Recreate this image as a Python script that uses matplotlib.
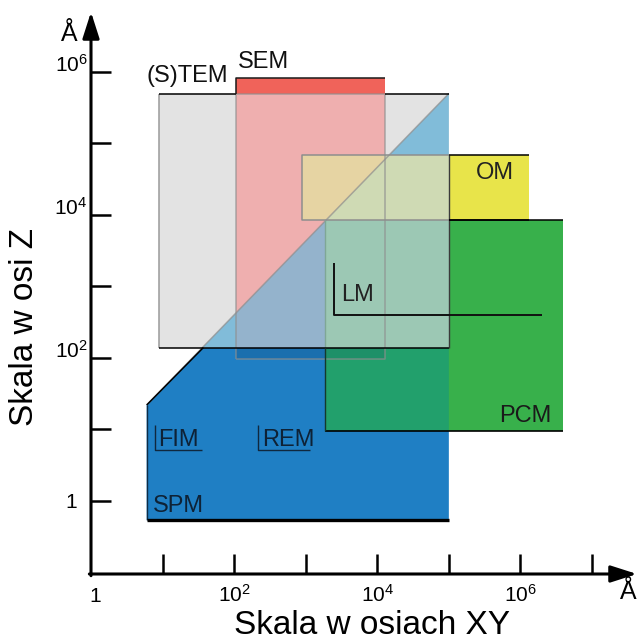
import matplotlib
matplotlib.use("Agg")
import matplotlib.pyplot as plt
from matplotlib.patches import Rectangle, Polygon
from matplotlib.transforms import blended_transform_factory, offset_copy

plt.rcParams["font.family"] = ["Liberation Sans", "DejaVu Sans"]
plt.rcParams["mathtext.fontset"] = "custom"
plt.rcParams["mathtext.rm"] = "Liberation Sans"
plt.rcParams["mathtext.it"] = "Liberation Sans:italic"
plt.rcParams["mathtext.bf"] = "Liberation Sans:bold"

# ---- ranges of each imaging technique (Å): lateral XY and vertical Z ----
tem_xy = [9.0, 1.0e5]
tem_z = [140.0, 5.0e5]
sem_xy = [105.0, 1.3e4]
sem_z = [97.0, 8.3e5]
om_xy = [890.0, 1.3e6]
om_z = [8.4e3, 6.9e4]
pcm_xy = [1.86e3, 3.9e6]
pcm_z = [9.5, 8.4e3]
spm_xy = [6.0, 1.0e5]
spm_z = [0.54, 22.0]          # bottom, start of the slanted edge
lm_xy = [2.45e3, 2.0e6]
lm_z = [400.0, 2.1e3]
fim_xy = [7.8, 35.0]
fim_z = [5.2, 11.6]
rem_xy = [215.0, 1150.0]
rem_z = [5.2, 11.6]

tick_values = [1, 10, 100, 1e3, 1e4, 1e5, 1e6, 1e7]
label_values = [1, 1e2, 1e4, 1e6]
label_texts = ["1", r"$\mathregular{10^{2}}$", r"$\mathregular{10^{4}}$", r"$\mathregular{10^{6}}$"]

W, H = 637, 641
fig = plt.figure(figsize=(W / 100, H / 100), dpi=100)
ax = fig.add_axes([91 / W, 67 / H, 546 / W, 562 / H])
ax.set_xscale("log")
ax.set_yscale("log")
ax.set_xlim(1, 10 ** 7.629)
ax.set_ylim(10 ** -1.021, 10 ** 6.839)
for s in ax.spines.values():
    s.set_visible(False)
ax.set_xticks(tick_values[1:])
ax.set_yticks(tick_values[:7])
ax.minorticks_off()
ax.tick_params(direction="in", length=14.4, width=1.8, labelbottom=False, labelleft=False)


def rect(xs, zs, color, z, clip=None, **kw):
    r = Rectangle((xs[0], zs[0]), xs[1] - xs[0], zs[1] - zs[0],
                  facecolor=color, edgecolor="none", zorder=z, **kw)
    ax.add_patch(r)
    if clip is not None:
        r.set_clip_path(clip)
    return r


def line(xs, zs, color, lw, z, **kw):
    ax.plot(xs, zs, color=color, lw=lw, zorder=z, solid_capstyle="butt", **kw)


# SPM area: bounded below, with a slanted upper edge up to the TEM corner
spm_verts = [(spm_xy[0], spm_z[0]), (spm_xy[0], spm_z[1]),
             (tem_xy[1], tem_z[1]), (spm_xy[1], spm_z[0])]
spm_patch = Polygon(spm_verts, closed=True, facecolor="#1f7fc4", edgecolor="none", zorder=1)
ax.add_patch(spm_patch)
spm_clip = Polygon(spm_verts, closed=True, transform=ax.transData)
above_clip = Polygon([(spm_xy[0], spm_z[1]), (tem_xy[1], tem_z[1]),
                      (tem_xy[1], 1e9), (spm_xy[0], 1e9)],
                     closed=True, transform=ax.transData)

# (S)TEM
rect(tem_xy, tem_z, "#e3e3e3", 2)
rect(tem_xy, tem_z, "#81bcd9", 3, clip=spm_clip)

# SEM
sem_in = [sem_z[0] if sem_z[0] > tem_z[0] else tem_z[0], tem_z[1]]
rect(sem_xy, sem_in, "#efafaf", 4)
rect(sem_xy, sem_in, "#94b3cc", 5, clip=spm_clip)
rect(sem_xy, [tem_z[1], sem_z[1]], "#f0635a", 5)
rect(sem_xy, [sem_z[0], tem_z[0]], "#1a6fae", 5, clip=spm_clip)

# PCM
rect(pcm_xy, pcm_z, "#38b04b", 6)
rect(pcm_xy, pcm_z, "#22a06c", 7, clip=spm_clip)
rect([pcm_xy[0], tem_xy[1]], [tem_z[0], pcm_z[1]], "#9cc8b4", 8)
rect([pcm_xy[0], sem_xy[1]], [sem_z[0], tem_z[0]], "#1e9068", 8)

# OM
rect(om_xy, om_z, "#e8e44a", 9)
rect([om_xy[0], tem_xy[1]], om_z, "#cfdab4", 10)
rect([om_xy[0], sem_xy[1]], om_z, "#e6d4a3", 11, clip=above_clip)

# outlines
gray = "#8e8e8e"
# TEM
line([tem_xy[0], tem_xy[0]], tem_z, "#9a9a9a", 1.1, 12)
line([tem_xy[0], sem_xy[0]], [tem_z[1]] * 2, "#000000", 1.1, 13)
line([sem_xy[1], tem_xy[1]], [tem_z[1]] * 2, "#000000", 1.1, 13)
line(tem_xy, [tem_z[0]] * 2, "#000000", 1.1, 13)
line([tem_xy[1]] * 2, [tem_z[0], om_z[1]], "#3a3a3a", 1.0, 13)
# slanted SPM edge inside TEM
line([spm_xy[0], tem_xy[1]], [spm_z[1], tem_z[1]], gray, 1.1, 12, alpha=0.7)
# SEM
line([sem_xy[0], sem_xy[1], sem_xy[1], sem_xy[0], sem_xy[0]],
     [sem_z[0], sem_z[0], tem_z[1], tem_z[1], sem_z[0]], gray, 1.1, 12, alpha=0.7)
line([sem_xy[0], sem_xy[0], sem_xy[1]], [tem_z[1], sem_z[1], sem_z[1]], "#1a1a1a", 1.1, 13)
# OM
line([tem_xy[1], om_xy[0], om_xy[0], tem_xy[1]], [om_z[1], om_z[1], om_z[0], om_z[0]],
     gray, 1.1, 12)
line([tem_xy[1], om_xy[1]], [om_z[1]] * 2, "#000000", 1.1, 13)
line([tem_xy[1], om_xy[1]], [om_z[0]] * 2, "#000000", 1.1, 13)
# PCM
line([tem_xy[1], pcm_xy[1]], [pcm_z[1]] * 2, "#000000", 1.1, 13)
line(pcm_xy, [pcm_z[0]] * 2, "#000000", 1.2, 13)
line([pcm_xy[0]] * 2, [pcm_z[0], tem_z[0]], "#14392c", 1.0, 13)
line([pcm_xy[0]] * 2, [tem_z[0], pcm_z[1]], "#7fa796", 1.0, 12)
# SPM
line([spm_xy[0], spm_xy[0]], spm_z, "#0f2c45", 1.0, 13)
line([spm_xy[0], 10 ** 1.57], [spm_z[1], tem_z[0]], "#000000", 1.1, 13)
line(spm_xy, [spm_z[0]] * 2, "#000000", 2.4, 14)

# range brackets
line([lm_xy[0], lm_xy[0], lm_xy[1]], [lm_z[1], lm_z[0], lm_z[0]], "#111111", 1.4, 15)
line([fim_xy[0], fim_xy[0], fim_xy[1]], [fim_z[1], fim_z[0], fim_z[0]], "#10283e", 1.0, 15)
line([rem_xy[0], rem_xy[0], rem_xy[1]], [rem_z[1], rem_z[0], rem_z[0]], "#10283e", 1.0, 15)

# technique names
names = [
    ("(S)TEM", 5.9, 7.2e5, "#111111"),
    ("SEM", 112, 1.15e6, "#111111"),
    ("OM", 2.4e5, 3.2e4, "#222222"),
    ("LM", 3.1e3, 630, "#222222"),
    ("PCM", 5.1e5, 12.7, "#1a1a1a"),
    ("FIM", 8.6, 5.9, "#0e2236"),
    ("REM", 245, 5.9, "#0e2236"),
    ("SPM", 7.3, 0.70, "#0e2236"),
]
for txt, x, y, c in names:
    ax.text(x, y, txt, fontsize=17, color=c, ha="left", va="baseline", zorder=20)

# axes with arrow heads
arrow = dict(arrowstyle="-|>,head_length=1.0,head_width=0.32", lw=2.2, color="black",
             mutation_scale=16, shrinkA=0, shrinkB=0)
ax.annotate("", xy=(1.0, 0), xytext=(-0.003, 0), xycoords="axes fraction",
            textcoords="axes fraction", arrowprops=arrow, annotation_clip=False)
ax.annotate("", xy=(0, 1.0), xytext=(0, -0.003), xycoords="axes fraction",
            textcoords="axes fraction", arrowprops=arrow, annotation_clip=False)

# tick labels
tx = blended_transform_factory(ax.transData, ax.transAxes)
tx = offset_copy(tx, fig=fig, x=0, y=-28 * 0.72, units="points")
for v, t in zip(label_values, label_texts):
    dx = 4 * 0.72 if v == 1 else 0
    ax.text(v, 0, t, fontsize=15, ha="center", va="baseline",
            transform=offset_copy(tx, fig=fig, x=dx, y=0, units="points"))
ty = blended_transform_factory(ax.transAxes, ax.transData)
ty = offset_copy(ty, fig=fig, x=-20 * 0.72, y=0, units="points")
for v, t in zip(label_values, label_texts):
    ax.text(0, v, t, fontsize=15, ha="center",
            va="center_baseline" if v == 1 else "baseline", transform=ty)

# unit marks and axis titles
fig.text(69 / W, 1 - 34 / H, "Å", fontsize=18, ha="center", va="center")
fig.text(628 / W, 1 - 592 / H, "Å", fontsize=18, ha="center", va="center")
fig.text(372 / W, 1 - 634 / H, "Skala w osiach XY", fontsize=24, ha="center", va="baseline")
fig.text(25 / W, 1 - 327 / H, "Skala w osi Z", fontsize=24, ha="center", va="center",
         rotation=90)

fig.savefig("out.png", dpi=100)
